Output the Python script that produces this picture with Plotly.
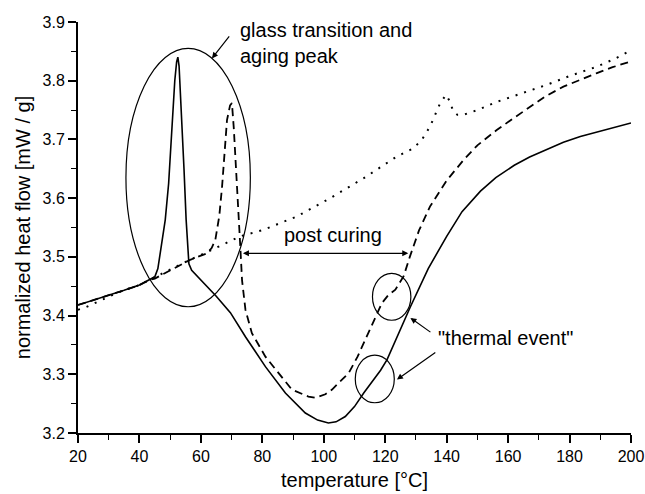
import plotly.graph_objects as go

# ---- data ----
solid_T = [20, 25, 30, 35, 40, 43, 45, 46, 46.8, 48.4, 49.5, 50.6, 51.5, 52.1, 52.5, 52.9,
           53.8, 54.5, 55.2, 55.7, 56.1, 57, 60, 65, 69.6, 74.5, 81, 87.5, 94, 98, 101.5,
           104, 107, 110, 113, 116.2, 118.5, 120.6, 124.9, 128.2, 134, 140, 145, 151, 156,
           162, 167, 173, 178, 183.5, 189, 194.3, 200]
solid_V = [3.418, 3.426, 3.435, 3.443, 3.452, 3.460, 3.466, 3.480, 3.506, 3.563, 3.625, 3.733,
           3.800, 3.832, 3.840, 3.825, 3.733, 3.650, 3.563, 3.510, 3.488, 3.477, 3.461, 3.433,
           3.405, 3.364, 3.313, 3.268, 3.234, 3.222, 3.217, 3.219, 3.228, 3.245, 3.268, 3.291,
           3.307, 3.325, 3.376, 3.415, 3.480, 3.535, 3.577, 3.612, 3.635, 3.656, 3.670, 3.684,
           3.695, 3.705, 3.713, 3.720, 3.728]

dash_T = [20, 25, 30, 35, 40, 43, 45, 50, 56.5, 62, 63.5, 64.7, 66, 66.9, 68.5, 69.5, 70.1,
          70.7, 71.2, 72.3, 72.8, 73.4, 74.5, 76.6, 81, 85.3, 89.6, 95, 97.3, 100.5, 102.7,
          104.8, 108.1, 111, 113.5, 116, 118.9, 121, 123.3, 126, 128, 131, 134.6, 140, 145.5,
          150, 156.3, 162, 167.2, 172, 178, 183, 188.9, 194, 200]
dash_V = [3.418, 3.426, 3.435, 3.443, 3.452, 3.460, 3.463, 3.477, 3.495, 3.506, 3.515, 3.529,
          3.570, 3.620, 3.733, 3.758, 3.762, 3.720, 3.677, 3.563, 3.520, 3.460, 3.410, 3.370,
          3.330, 3.302, 3.274, 3.262, 3.260, 3.266, 3.274, 3.285, 3.302, 3.330, 3.359, 3.390,
          3.421, 3.435, 3.444, 3.467, 3.500, 3.545, 3.586, 3.630, 3.665, 3.690, 3.716, 3.737,
          3.756, 3.773, 3.790, 3.801, 3.813, 3.823, 3.833]

dot_T = [20, 22, 25, 28.3, 32, 36, 40, 43, 50, 56, 62, 67, 72.8, 80.4, 91.3, 102.1, 113,
         123.8, 129.2, 132, 134.6, 136.5, 137.9, 139.8, 141, 142.2, 143.5, 145.5, 150, 156.3,
         164, 172.6, 180, 188.9, 195, 200]
dot_V = [3.410, 3.413, 3.420, 3.428, 3.437, 3.445, 3.452, 3.460, 3.478, 3.494, 3.508, 3.520,
         3.535, 3.546, 3.569, 3.600, 3.634, 3.671, 3.685, 3.700, 3.722, 3.745, 3.762, 3.776,
         3.765, 3.747, 3.742, 3.742, 3.750, 3.764, 3.778, 3.793, 3.808, 3.824, 3.838, 3.852]

x_ticks = [20, 40, 60, 80, 100, 120, 140, 160, 180, 200]
y_ticks = [3.2, 3.3, 3.4, 3.5, 3.6, 3.7, 3.8, 3.9]

FONT = "Liberation Sans, Arial, sans-serif"

fig = go.Figure()
fig.add_trace(go.Scatter(x=dot_T, y=dot_V, mode="lines",
                         line=dict(color="black", width=2, dash="2px,7px")))
fig.add_trace(go.Scatter(x=dash_T, y=dash_V, mode="lines",
                         line=dict(color="black", width=1.8, dash="8px,5px")))
fig.add_trace(go.Scatter(x=solid_T, y=solid_V, mode="lines",
                         line=dict(color="black", width=1.6)))

# ellipses
for (x0, x1, y0, y1) in [(35.6, 76.1, 3.415, 3.855),
                         (115.85, 128.35, 3.392, 3.472),
                         (110.25, 122.95, 3.2515, 3.3325)]:
    fig.add_shape(type="circle", xref="x", yref="y", x0=x0, x1=x1, y0=y0, y1=y1,
                  line=dict(color="black", width=1.2))

txt = dict(family=FONT, size=20, color="black")
# glass transition label + arrow
fig.add_annotation(x=72.2, y=3.865, xref="x", yref="y", text="glass transition and<br>aging peak",
                   showarrow=False, xanchor="left", yanchor="middle", align="left", font=txt)
fig.add_annotation(x=63.6, y=3.838, ax=69.6, ay=3.878, xref="x", yref="y", axref="x", ayref="y",
                   text="", showarrow=True, arrowhead=2, arrowsize=1, arrowwidth=1.2,
                   arrowcolor="black")
# post curing
fig.add_annotation(x=102.9, y=3.538, xref="x", yref="y", text="post curing",
                   showarrow=False, xanchor="center", yanchor="middle", font=txt)
fig.add_annotation(x=127.5, y=3.506, ax=73.2, ay=3.506, xref="x", yref="y", axref="x", ayref="y",
                   text="", showarrow=True, arrowhead=2, startarrowhead=2, arrowside="end+start",
                   arrowsize=1, arrowwidth=1.2, arrowcolor="black")
# thermal event
fig.add_annotation(x=136.6, y=3.362, xref="x", yref="y", text="\"thermal event\"",
                   showarrow=False, xanchor="left", yanchor="middle", font=txt)
fig.add_annotation(x=128.2, y=3.396, ax=135.2, ay=3.370, xref="x", yref="y", axref="x", ayref="y",
                   text="", showarrow=True, arrowhead=2, arrowsize=1, arrowwidth=1.2,
                   arrowcolor="black")
fig.add_annotation(x=123.8, y=3.291, ax=136.8, ay=3.339, xref="x", yref="y", axref="x", ayref="y",
                   text="", showarrow=True, arrowhead=2, arrowsize=1, arrowwidth=1.2,
                   arrowcolor="black")

fig.update_layout(
    width=645, height=494,
    margin=dict(l=78, r=14, t=22, b=61, autoexpand=False),
    paper_bgcolor="white", plot_bgcolor="white",
    showlegend=False,
    hovermode=False,
    font=dict(family=FONT, color="black"),
)
fig.update_xaxes(range=[20, 200], tickvals=x_ticks, ticks="outside", ticklen=8, tickwidth=1.5,
                 tickcolor="black", showline=True, linecolor="black", linewidth=2,
                 showgrid=False, zeroline=False, tickfont=dict(size=16, family=FONT),
                 ticklabeloverflow="allow",
                 minor=dict(dtick=10, ticks="outside", ticklen=5, tickwidth=1.2, tickcolor="black",
                            showgrid=False),
                 title=dict(text="temperature [°C]", font=dict(size=20, family=FONT), standoff=9))
fig.update_yaxes(range=[3.2, 3.9], tickvals=y_ticks, tickformat=".1f", ticks="outside", ticklen=8,
                 tickwidth=1.5, tickcolor="black", showline=True, linecolor="black", linewidth=2,
                 showgrid=False, zeroline=False, tickfont=dict(size=16, family=FONT),
                 ticklabeloverflow="allow",
                 minor=dict(dtick=0.05, ticks="outside", ticklen=5, tickwidth=1.2,
                            tickcolor="black", showgrid=False),
                 title=dict(text="normalized heat flow [mW / g]", font=dict(size=20, family=FONT),
                            standoff=7))

page_js = ("document.body.style.margin='0';"
           "document.body.style.overflow='hidden';")
fig.write_html("out.html", post_script=page_js, config={"displayModeBar": False})
